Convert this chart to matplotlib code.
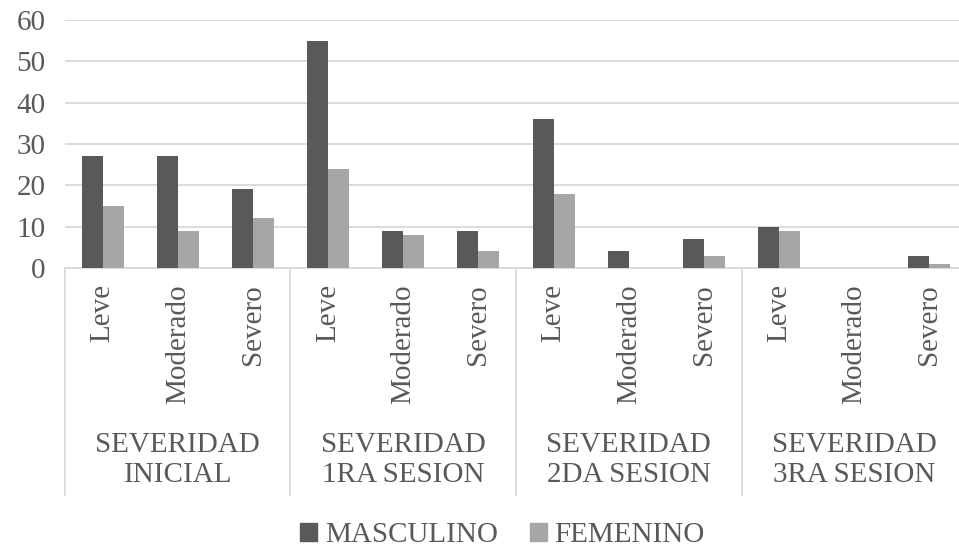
import numpy as np
import matplotlib
matplotlib.use("Agg")
import matplotlib.pyplot as plt
from matplotlib.patches import Patch
import matplotlib.transforms as mtransforms

plt.rcParams["font.family"] = "serif"
plt.rcParams["font.serif"] = ["Liberation Serif", "DejaVu Serif"]

grupos = ["SEVERIDAD\nINICIAL", "SEVERIDAD\n1RA SESION",
          "SEVERIDAD\n2DA SESION", "SEVERIDAD\n3RA SESION"]
niveles = ["Leve", "Moderado", "Severo"]
masculino = [27, 27, 19, 55, 9, 9, 36, 4, 7, 10, 0, 3]
femenino = [15, 9, 12, 24, 8, 4, 18, 0, 3, 9, 0, 1]
yticks = [0, 10, 20, 30, 40, 50, 60]

C_M = "#595959"
C_F = "#a6a6a6"
TXT = "#595959"
LINE = "#d9d9d9"
FS = 21

fig = plt.figure(figsize=(9.59, 5.5), dpi=100)
ax = fig.add_axes([65 / 959, 282 / 550, 902 / 959, 248 / 550])

x = np.arange(len(masculino))
w = 0.28
ax.bar(x - w / 2, masculino, w, color=C_M, zorder=3)
ax.bar(x + w / 2, femenino, w, color=C_F, zorder=3)

ax.set_xlim(-0.5, len(x) - 0.5)
ax.set_ylim(0, 60)
ax.set_yticks(yticks)
ax.yaxis.grid(True, color=LINE, lw=1.3)
ax.set_axisbelow(True)
ax.tick_params(axis="y", length=0, labelsize=FS, labelcolor=TXT, pad=14)
ax.set_xticks([])
for s in ["top", "right", "left"]:
    ax.spines[s].set_visible(False)
ax.spines["bottom"].set_color(LINE)
ax.spines["bottom"].set_linewidth(1.3)

tr = mtransforms.blended_transform_factory(ax.transData, ax.transAxes)
for i in x:
    ax.text(i, -0.065, niveles[i % 3], rotation=90, ha="center", va="top",
            fontsize=FS, color=TXT, transform=tr)
for g, nom in enumerate(grupos):
    ax.text(3 * g + 1, -0.775, nom, ha="center", va="center", fontsize=FS,
            color=TXT, transform=tr, linespacing=1.2)
for b in range(len(grupos) + 1):
    ax.plot([3 * b - 0.5] * 2, [0, -0.915], color=LINE, lw=1.3,
            transform=tr, clip_on=False)

handles = [Patch(color=C_M, label="MASCULINO"), Patch(color=C_F, label="FEMENINO")]
fig.legend(handles=handles, ncol=2, loc="lower center", bbox_to_anchor=(0.524, -0.045),
           frameon=False, fontsize=FS, handlelength=0.6, handleheight=0.6,
           handletextpad=0.25, columnspacing=1.1, labelcolor=TXT)

fig.savefig("out.png", dpi=100)
